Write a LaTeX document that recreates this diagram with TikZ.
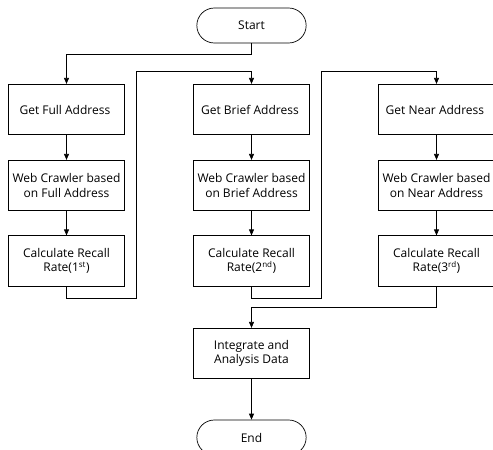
\documentclass[tikz,border=0pt]{standalone}
\usepackage{fontspec}
\setmainfont{Open Sans}
\usepackage{tikz}
\usetikzlibrary{positioning,arrows.meta,shapes.misc}

\tikzset{
  stepbox/.style={rectangle,draw,minimum width=116pt,minimum height=50.5pt,align=center,inner sep=1pt,font=\fontsize{12}{14.5}\selectfont},
  termbox/.style={rounded rectangle,draw,minimum width=116pt,minimum height=35pt,font=\fontsize{12}{14.5}\selectfont},
  flow/.style={-{Triangle[length=6pt,width=5pt]}},
}

\begin{document}
\begin{tikzpicture}[x=1pt,y=-1pt,line width=0.7pt]
\useasboundingbox (0,0) rectangle (493,450);

\node[termbox] (start) at (251.5,25.5) { Start } ;

\node[stepbox] (g1) at (66.5,109.5) { Get Full Address } ;
\node[stepbox] (w1) at (66.5,185.5) { Web Crawler based\\on Full Address } ;
\node[stepbox] (c1) at (66.5,261) { Calculate Recall\\Rate(1\textsuperscript{st}) } ;

\node[stepbox] (g2) at (251.5,109.5) { Get Brief Address } ;
\node[stepbox] (w2) at (251.5,185.5) { Web Crawler based\\on Brief Address } ;
\node[stepbox] (c2) at (251.5,261) { Calculate Recall\\Rate(2\textsuperscript{nd}) } ;

\node[stepbox] (g3) at (436.5,109.5) { Get Near Address } ;
\node[stepbox] (w3) at (436.5,185.5) { Web Crawler based\\on Near Address } ;
\node[stepbox] (c3) at (436.5,261) { Calculate Recall\\Rate(3\textsuperscript{rd}) } ;

\node[stepbox] (ia) at (251.5,353.5) { Integrate and\\Analysis Data } ;
\node[termbox] (end) at (251.5,437.5) { End } ;

\draw[flow] (start.south) -- ++(0,11) -| (g1.north) ;
\draw[flow] (g1) -- (w1) ;
\draw[flow] (w1) -- (c1) ;
\draw[flow] (c1.south) -- ++(0,11.5) -- ++(70,0) |- ([yshift=13pt]g2.north) -- (g2.north) ;
\draw[flow] (g2) -- (w2) ;
\draw[flow] (w2) -- (c2) ;
\draw[flow] (c2.south) -- ++(0,11.5) -- ++(70,0) |- ([yshift=13pt]g3.north) -- (g3.north) ;
\draw[flow] (g3) -- (w3) ;
\draw[flow] (w3) -- (c3) ;
\draw[flow] (c3.south) -- ++(0,20.5) -| (ia.north) ;
\draw[flow] (ia) -- (end) ;

\end{tikzpicture}
\end{document}
